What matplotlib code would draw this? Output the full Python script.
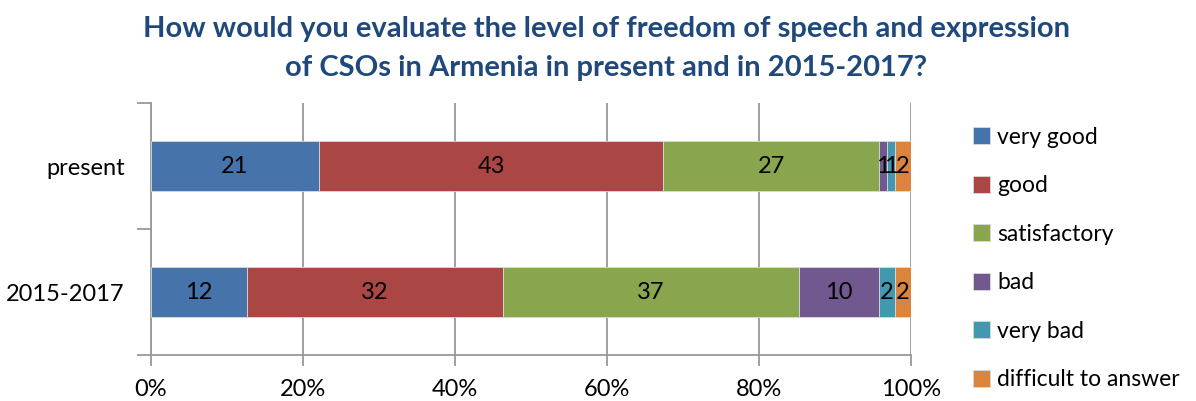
import numpy as np
import matplotlib
matplotlib.use("Agg")
import matplotlib.pyplot as plt

plt.rcParams['font.family'] = ['Lato', 'DejaVu Sans']

# data (counts, shown as 100% stacked)
periods = ['2015-2017', 'present']
answers = ['very good', 'good', 'satisfactory', 'bad', 'very bad', 'difficult to answer']
very_good = [12, 21]
good = [32, 43]
satisfactory = [37, 27]
bad = [10, 1]
very_bad = [2, 1]
difficult = [2, 2]
colors = ['#4674AA', '#AA4644', '#89A54E', '#71588F', '#4198AF', '#DB843D']
xticks = [0, 20, 40, 60, 80, 100]

series = np.array([very_good, good, satisfactory, bad, very_bad, difficult], dtype=float)
totals = series.sum(axis=0)
shares = series / totals * 100

fig = plt.figure(figsize=(11.96, 4.01), dpi=100)
ax = fig.add_axes([0.1263, 0.1147, 0.7617 - 0.1263, 0.743 - 0.1147])

y = np.arange(len(periods))
left = np.zeros(len(periods))
for vals, share, name, col in zip(series, shares, answers, colors):
    ax.barh(y, share, left=left, height=0.4, color=col, label=name,
            edgecolor='#D9D9D9', linewidth=0.6, zorder=3)
    for yi, v, l, s in zip(y, vals, left, share):
        ax.text(l + s / 2, yi, '%d' % v, ha='center', va='center',
                fontsize=17, color='black', zorder=4)
    left += share

ax.set_xlim(0, 100)
ax.set_ylim(-0.5, 1.5)
ax.set_xticks(xticks)
ax.set_xticklabels(['%d%%' % t for t in xticks], fontsize=17)
ax.set_yticks([-0.5, 0.5, 1.5])
ax.set_yticklabels([])
ax.set_yticks(y, minor=True)
ax.set_yticklabels(periods, minor=True, fontsize=17)
ax.tick_params(axis='y', which='minor', length=0, pad=19)
ax.tick_params(axis='y', which='major', length=10, color='#999999', width=1.3)
ax.tick_params(axis='x', length=8, color='#999999', width=1.3, pad=9)
ax.grid(axis='x', color='#999999', linewidth=1.3, zorder=0)
for side in ['top', 'right']:
    ax.spines[side].set_visible(False)
for side in ['left', 'bottom']:
    ax.spines[side].set_color('#999999')
    ax.spines[side].set_linewidth(1.3)

fig.text(0.507, 0.96, 'How would you evaluate the level of freedom of speech and expression\nof CSOs in Armenia in present and in 2015-2017?',
         ha='center', va='top', fontsize=21, fontweight='bold', color='#1F497D',
         linespacing=1.6)

handles, labels = ax.get_legend_handles_labels()
leg = fig.legend(handles, labels, loc='upper left', bbox_to_anchor=(0.806, 0.707),
                 frameon=False, fontsize=16.5, handlelength=0.75, handleheight=0.75,
                 handletextpad=0.3, labelspacing=1.2, borderaxespad=0)

fig.savefig('out.png', dpi=100)
